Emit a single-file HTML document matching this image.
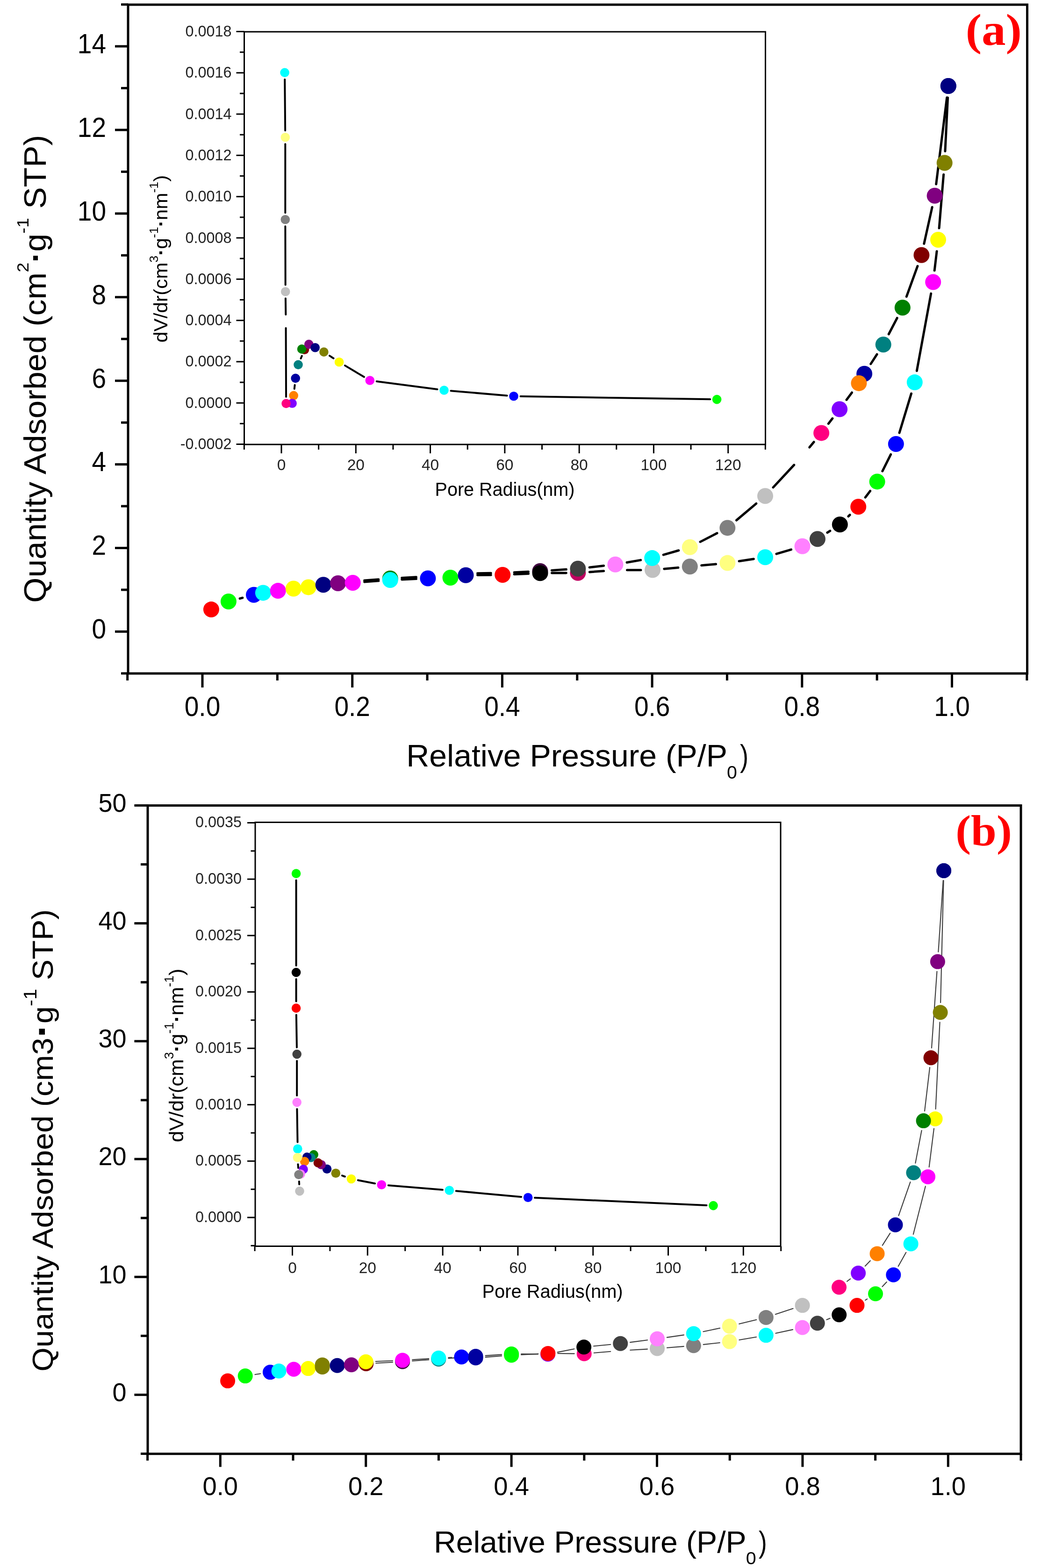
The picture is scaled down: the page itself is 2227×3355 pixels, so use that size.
<!DOCTYPE html>
<html><head><meta charset="utf-8"><title>Nitrogen adsorption-desorption isotherms</title>
<style>html,body{margin:0;padding:0;background:#fff;} svg{display:block;} text{font-family:'Liberation Sans', Arial, sans-serif;}</style>
</head><body>
<svg width="2227" height="3355" viewBox="0 0 2227 3355">
<rect width="2227" height="3355" fill="#fff"/>
<rect x="274" y="10" width="1923.5" height="1431" fill="none" stroke="#000" stroke-width="5"/>
<line x1="259" y1="1440.85" x2="274" y2="1440.85" stroke="#000" stroke-width="5"/>
<line x1="246" y1="1351.4" x2="274" y2="1351.4" stroke="#000" stroke-width="5"/>
<text transform="translate(227,1366.2) scale(0.94,1)" font-size="58.5" text-anchor="end">0</text>
<line x1="259" y1="1261.95" x2="274" y2="1261.95" stroke="#000" stroke-width="5"/>
<line x1="246" y1="1172.5" x2="274" y2="1172.5" stroke="#000" stroke-width="5"/>
<text transform="translate(227,1187.3) scale(0.94,1)" font-size="58.5" text-anchor="end">2</text>
<line x1="259" y1="1083.05" x2="274" y2="1083.05" stroke="#000" stroke-width="5"/>
<line x1="246" y1="993.6" x2="274" y2="993.6" stroke="#000" stroke-width="5"/>
<text transform="translate(227,1008.4) scale(0.94,1)" font-size="58.5" text-anchor="end">4</text>
<line x1="259" y1="904.15" x2="274" y2="904.15" stroke="#000" stroke-width="5"/>
<line x1="246" y1="814.7" x2="274" y2="814.7" stroke="#000" stroke-width="5"/>
<text transform="translate(227,829.5) scale(0.94,1)" font-size="58.5" text-anchor="end">6</text>
<line x1="259" y1="725.25" x2="274" y2="725.25" stroke="#000" stroke-width="5"/>
<line x1="246" y1="635.8" x2="274" y2="635.8" stroke="#000" stroke-width="5"/>
<text transform="translate(227,650.6) scale(0.94,1)" font-size="58.5" text-anchor="end">8</text>
<line x1="259" y1="546.35" x2="274" y2="546.35" stroke="#000" stroke-width="5"/>
<line x1="246" y1="456.9" x2="274" y2="456.9" stroke="#000" stroke-width="5"/>
<text transform="translate(227,471.7) scale(0.94,1)" font-size="58.5" text-anchor="end">10</text>
<line x1="259" y1="367.45" x2="274" y2="367.45" stroke="#000" stroke-width="5"/>
<line x1="246" y1="278" x2="274" y2="278" stroke="#000" stroke-width="5"/>
<text transform="translate(227,292.8) scale(0.94,1)" font-size="58.5" text-anchor="end">12</text>
<line x1="259" y1="188.55" x2="274" y2="188.55" stroke="#000" stroke-width="5"/>
<line x1="246" y1="99.1" x2="274" y2="99.1" stroke="#000" stroke-width="5"/>
<text transform="translate(227,113.9) scale(0.94,1)" font-size="58.5" text-anchor="end">14</text>
<line x1="259" y1="9.65" x2="274" y2="9.65" stroke="#000" stroke-width="5"/>
<line x1="272.65" y1="1441" x2="272.65" y2="1456" stroke="#000" stroke-width="5"/>
<line x1="433" y1="1441" x2="433" y2="1471" stroke="#000" stroke-width="5"/>
<text transform="translate(433,1531.7) scale(0.94,1)" font-size="58.5" text-anchor="middle">0.0</text>
<line x1="593.35" y1="1441" x2="593.35" y2="1456" stroke="#000" stroke-width="5"/>
<line x1="753.7" y1="1441" x2="753.7" y2="1471" stroke="#000" stroke-width="5"/>
<text transform="translate(753.7,1531.7) scale(0.94,1)" font-size="58.5" text-anchor="middle">0.2</text>
<line x1="914.05" y1="1441" x2="914.05" y2="1456" stroke="#000" stroke-width="5"/>
<line x1="1074.4" y1="1441" x2="1074.4" y2="1471" stroke="#000" stroke-width="5"/>
<text transform="translate(1074.4,1531.7) scale(0.94,1)" font-size="58.5" text-anchor="middle">0.4</text>
<line x1="1234.75" y1="1441" x2="1234.75" y2="1456" stroke="#000" stroke-width="5"/>
<line x1="1395.1" y1="1441" x2="1395.1" y2="1471" stroke="#000" stroke-width="5"/>
<text transform="translate(1395.1,1531.7) scale(0.94,1)" font-size="58.5" text-anchor="middle">0.6</text>
<line x1="1555.45" y1="1441" x2="1555.45" y2="1456" stroke="#000" stroke-width="5"/>
<line x1="1715.8" y1="1441" x2="1715.8" y2="1471" stroke="#000" stroke-width="5"/>
<text transform="translate(1715.8,1531.7) scale(0.94,1)" font-size="58.5" text-anchor="middle">0.8</text>
<line x1="1876.15" y1="1441" x2="1876.15" y2="1456" stroke="#000" stroke-width="5"/>
<line x1="2036.5" y1="1441" x2="2036.5" y2="1471" stroke="#000" stroke-width="5"/>
<text transform="translate(2036.5,1531.7) scale(0.94,1)" font-size="58.5" text-anchor="middle">1.0</text>
<line x1="2196.85" y1="1441" x2="2196.85" y2="1456" stroke="#000" stroke-width="5"/>
<text transform="translate(869.34,1640.4) scale(1.0288,1)" font-size="66">Relative Pressure (P/P</text>
<text transform="translate(1554.97,1666.4) scale(1.0212,1)" font-size="38.4">0</text>
<text transform="translate(1583.06,1640.4) scale(0.8255,1)" font-size="66">)</text>
<text transform="translate(98.1,1289.64) rotate(-90) scale(1.0532,1)" font-size="66">Quantity Adsorbed (cm<tspan font-size="36" dy="-37">2</tspan><tspan dy="37" font-weight="bold">·</tspan>g<tspan font-size="36" dy="-37">-1</tspan><tspan dy="37"> STP)</tspan></text>
<text transform="translate(2065.67,95.6) scale(1.0733,1)" font-size="96" font-weight="bold" style="fill:#FF0000;font-family:'Liberation Serif', 'Times New Roman', serif">(a)</text>
<line x1="513.08" y1="1280.65" x2="518.82" y2="1279.15" stroke="#000" stroke-width="5" stroke-linecap="round"/>
<line x1="779.63" y1="1245.13" x2="809.77" y2="1242.87" stroke="#000" stroke-width="5" stroke-linecap="round"/>
<line x1="859.68" y1="1239.92" x2="890.42" y2="1238.58" stroke="#000" stroke-width="5" stroke-linecap="round"/>
<line x1="1021.5" y1="1230.55" x2="1050.2" y2="1230.25" stroke="#000" stroke-width="5" stroke-linecap="round"/>
<line x1="1100.17" y1="1228.85" x2="1130.53" y2="1227.45" stroke="#000" stroke-width="5" stroke-linecap="round"/>
<line x1="1180.5" y1="1226.11" x2="1211.3" y2="1225.89" stroke="#000" stroke-width="5" stroke-linecap="round"/>
<line x1="1261.24" y1="1223.93" x2="1291.56" y2="1221.77" stroke="#000" stroke-width="5" stroke-linecap="round"/>
<line x1="1341.5" y1="1219.87" x2="1371" y2="1219.73" stroke="#000" stroke-width="5" stroke-linecap="round"/>
<line x1="1420.89" y1="1217.29" x2="1450.91" y2="1214.51" stroke="#000" stroke-width="5" stroke-linecap="round"/>
<line x1="1500.69" y1="1209.85" x2="1531.51" y2="1206.95" stroke="#000" stroke-width="5" stroke-linecap="round"/>
<line x1="1581.11" y1="1200.8" x2="1612.29" y2="1196" stroke="#000" stroke-width="5" stroke-linecap="round"/>
<line x1="1660.97" y1="1185.11" x2="1692.53" y2="1175.79" stroke="#000" stroke-width="5" stroke-linecap="round"/>
<line x1="1769.89" y1="1139.62" x2="1775.81" y2="1135.78" stroke="#000" stroke-width="5" stroke-linecap="round"/>
<line x1="1814.82" y1="1104.87" x2="1818.18" y2="1101.63" stroke="#000" stroke-width="5" stroke-linecap="round"/>
<line x1="1851.19" y1="1064.3" x2="1861.61" y2="1050.4" stroke="#000" stroke-width="5" stroke-linecap="round"/>
<line x1="1887.78" y1="1008.04" x2="1905.62" y2="972.36" stroke="#000" stroke-width="5" stroke-linecap="round"/>
<line x1="1924.06" y1="926.08" x2="1949.54" y2="842.02" stroke="#000" stroke-width="5" stroke-linecap="round"/>
<line x1="1961.31" y1="793.51" x2="1991.69" y2="628.09" stroke="#000" stroke-width="5" stroke-linecap="round"/>
<line x1="1999.16" y1="578.68" x2="2004.04" y2="537.82" stroke="#000" stroke-width="5" stroke-linecap="round"/>
<line x1="2009.07" y1="488.09" x2="2018.63" y2="373.41" stroke="#000" stroke-width="5" stroke-linecap="round"/>
<line x1="2021.93" y1="323.53" x2="2027.57" y2="208.97" stroke="#000" stroke-width="5" stroke-linecap="round"/>
<line x1="2025.71" y1="208.81" x2="2002.69" y2="393.99" stroke="#000" stroke-width="5" stroke-linecap="round"/>
<line x1="1994.18" y1="443.21" x2="1976.82" y2="521.39" stroke="#000" stroke-width="5" stroke-linecap="round"/>
<line x1="1962.91" y1="569.31" x2="1939.29" y2="634.69" stroke="#000" stroke-width="5" stroke-linecap="round"/>
<line x1="1919.26" y1="680.38" x2="1901.24" y2="715.02" stroke="#000" stroke-width="5" stroke-linecap="round"/>
<line x1="1876.08" y1="758.16" x2="1862.72" y2="778.74" stroke="#000" stroke-width="5" stroke-linecap="round"/>
<line x1="1822.49" y1="839.97" x2="1811.01" y2="855.43" stroke="#000" stroke-width="5" stroke-linecap="round"/>
<line x1="1780.89" y1="895.34" x2="1772.31" y2="906.56" stroke="#000" stroke-width="5" stroke-linecap="round"/>
<line x1="1741.2" y1="945.69" x2="1731.7" y2="957.21" stroke="#000" stroke-width="5" stroke-linecap="round"/>
<line x1="1698.77" y1="994.8" x2="1654.03" y2="1042.9" stroke="#000" stroke-width="5" stroke-linecap="round"/>
<line x1="1617.91" y1="1077.34" x2="1575.39" y2="1113.26" stroke="#000" stroke-width="5" stroke-linecap="round"/>
<line x1="1534.07" y1="1140.83" x2="1498.03" y2="1159.37" stroke="#000" stroke-width="5" stroke-linecap="round"/>
<line x1="1451.78" y1="1177.74" x2="1419.22" y2="1187.16" stroke="#000" stroke-width="5" stroke-linecap="round"/>
<line x1="1370.57" y1="1198.38" x2="1341.03" y2="1203.52" stroke="#000" stroke-width="5" stroke-linecap="round"/>
<line x1="1291.55" y1="1210.56" x2="1261.15" y2="1213.94" stroke="#000" stroke-width="5" stroke-linecap="round"/>
<line x1="1211.35" y1="1218.33" x2="1180.35" y2="1220.37" stroke="#000" stroke-width="5" stroke-linecap="round"/>
<line x1="1130.43" y1="1223.25" x2="1100.17" y2="1224.75" stroke="#000" stroke-width="5" stroke-linecap="round"/>
<line x1="1050.2" y1="1226.32" x2="1021.5" y2="1226.68" stroke="#000" stroke-width="5" stroke-linecap="round"/>
<line x1="890.44" y1="1234.83" x2="859.66" y2="1236.47" stroke="#000" stroke-width="5" stroke-linecap="round"/>
<line x1="809.77" y1="1239.73" x2="779.63" y2="1242.07" stroke="#000" stroke-width="5" stroke-linecap="round"/>
<circle cx="1155.4" cy="1222" r="17" fill="#400040"/>
<circle cx="834.7" cy="1237.8" r="17" fill="#008000"/>
<circle cx="1236.3" cy="1225.7" r="17" fill="#C00060"/>
<circle cx="451.9" cy="1304.1" r="17" fill="#FF0000"/>
<circle cx="488.9" cy="1287" r="17" fill="#00FF00"/>
<circle cx="543" cy="1272.8" r="17" fill="#0000FF"/>
<circle cx="562.9" cy="1268.4" r="17" fill="#00FFFF"/>
<circle cx="594.7" cy="1264.1" r="17" fill="#FF00FF"/>
<circle cx="627.9" cy="1259.5" r="17" fill="#FFFF00"/>
<circle cx="659.8" cy="1256.4" r="17" fill="#FFFF00"/>
<circle cx="691.7" cy="1251.3" r="17" fill="#000080"/>
<circle cx="723.1" cy="1248" r="17" fill="#800080"/>
<circle cx="754.7" cy="1247" r="17" fill="#FF00FF"/>
<circle cx="834.7" cy="1241" r="17" fill="#00FFFF"/>
<circle cx="915.4" cy="1237.5" r="17" fill="#0000FF"/>
<circle cx="963.5" cy="1236" r="17" fill="#00FF00"/>
<circle cx="996.5" cy="1230.8" r="17" fill="#0000A0"/>
<circle cx="1075.2" cy="1230" r="17" fill="#FF0000"/>
<circle cx="1155.5" cy="1226.3" r="17" fill="#000000"/>
<circle cx="1396" cy="1219.6" r="17" fill="#C0C0C0"/>
<circle cx="1475.8" cy="1212.2" r="17" fill="#808080"/>
<circle cx="1556.4" cy="1204.6" r="17" fill="#FFFF80"/>
<circle cx="1637" cy="1192.2" r="17" fill="#00FFFF"/>
<circle cx="1716.5" cy="1168.7" r="17" fill="#FF80FF"/>
<circle cx="1748.9" cy="1153.2" r="17" fill="#404040"/>
<circle cx="1796.8" cy="1122.2" r="17" fill="#000000"/>
<circle cx="1836.2" cy="1084.3" r="17" fill="#FF0000"/>
<circle cx="1876.6" cy="1030.4" r="17" fill="#00FF00"/>
<circle cx="1916.8" cy="950" r="17" fill="#0000FF"/>
<circle cx="1956.8" cy="818.1" r="17" fill="#00FFFF"/>
<circle cx="1996.2" cy="603.5" r="17" fill="#FF00FF"/>
<circle cx="2007" cy="513" r="17" fill="#FFFF00"/>
<circle cx="2020.7" cy="348.5" r="17" fill="#808000"/>
<circle cx="2028.8" cy="184" r="17" fill="#000080"/>
<circle cx="2028.8" cy="184" r="17" fill="#000080"/>
<circle cx="1999.6" cy="418.8" r="17" fill="#800080"/>
<circle cx="1971.4" cy="545.8" r="17" fill="#800000"/>
<circle cx="1930.8" cy="658.2" r="17" fill="#008000"/>
<circle cx="1889.7" cy="737.2" r="17" fill="#008080"/>
<circle cx="1849.1" cy="799.7" r="17" fill="#0000A0"/>
<circle cx="1837.4" cy="819.9" r="17" fill="#FF8000"/>
<circle cx="1796.1" cy="875.5" r="17" fill="#8000FF"/>
<circle cx="1757.1" cy="926.4" r="17" fill="#FF0080"/>
<circle cx="1637" cy="1061.2" r="17" fill="#C0C0C0"/>
<circle cx="1556.3" cy="1129.4" r="17" fill="#808080"/>
<circle cx="1475.8" cy="1170.8" r="17" fill="#FFFF80"/>
<circle cx="1395.2" cy="1194.1" r="17" fill="#00FFFF"/>
<circle cx="1316.4" cy="1207.8" r="17" fill="#FF80FF"/>
<circle cx="1236.3" cy="1216.7" r="17" fill="#404040"/>
<rect x="522.5" y="68" width="1115.0" height="883" fill="#fff"/>
<rect x="522.5" y="68" width="1115" height="883" fill="none" stroke="#000" stroke-width="3"/>
<line x1="505.5" y1="950.5" x2="522.5" y2="950.5" stroke="#000" stroke-width="3"/>
<text transform="translate(495.5,961) scale(0.98,1)" font-size="33" text-anchor="end" fill="#222">-0.0002</text>
<line x1="513" y1="906.35" x2="522.5" y2="906.35" stroke="#000" stroke-width="3"/>
<line x1="505.5" y1="862.2" x2="522.5" y2="862.2" stroke="#000" stroke-width="3"/>
<text transform="translate(495.5,872.7) scale(0.98,1)" font-size="33" text-anchor="end" fill="#222">0.0000</text>
<line x1="513" y1="818.05" x2="522.5" y2="818.05" stroke="#000" stroke-width="3"/>
<line x1="505.5" y1="773.9" x2="522.5" y2="773.9" stroke="#000" stroke-width="3"/>
<text transform="translate(495.5,784.4) scale(0.98,1)" font-size="33" text-anchor="end" fill="#222">0.0002</text>
<line x1="513" y1="729.75" x2="522.5" y2="729.75" stroke="#000" stroke-width="3"/>
<line x1="505.5" y1="685.6" x2="522.5" y2="685.6" stroke="#000" stroke-width="3"/>
<text transform="translate(495.5,696.1) scale(0.98,1)" font-size="33" text-anchor="end" fill="#222">0.0004</text>
<line x1="513" y1="641.45" x2="522.5" y2="641.45" stroke="#000" stroke-width="3"/>
<line x1="505.5" y1="597.3" x2="522.5" y2="597.3" stroke="#000" stroke-width="3"/>
<text transform="translate(495.5,607.8) scale(0.98,1)" font-size="33" text-anchor="end" fill="#222">0.0006</text>
<line x1="513" y1="553.15" x2="522.5" y2="553.15" stroke="#000" stroke-width="3"/>
<line x1="505.5" y1="509" x2="522.5" y2="509" stroke="#000" stroke-width="3"/>
<text transform="translate(495.5,519.5) scale(0.98,1)" font-size="33" text-anchor="end" fill="#222">0.0008</text>
<line x1="513" y1="464.85" x2="522.5" y2="464.85" stroke="#000" stroke-width="3"/>
<line x1="505.5" y1="420.7" x2="522.5" y2="420.7" stroke="#000" stroke-width="3"/>
<text transform="translate(495.5,431.2) scale(0.98,1)" font-size="33" text-anchor="end" fill="#222">0.0010</text>
<line x1="513" y1="376.55" x2="522.5" y2="376.55" stroke="#000" stroke-width="3"/>
<line x1="505.5" y1="332.4" x2="522.5" y2="332.4" stroke="#000" stroke-width="3"/>
<text transform="translate(495.5,342.9) scale(0.98,1)" font-size="33" text-anchor="end" fill="#222">0.0012</text>
<line x1="513" y1="288.25" x2="522.5" y2="288.25" stroke="#000" stroke-width="3"/>
<line x1="505.5" y1="244.1" x2="522.5" y2="244.1" stroke="#000" stroke-width="3"/>
<text transform="translate(495.5,254.6) scale(0.98,1)" font-size="33" text-anchor="end" fill="#222">0.0014</text>
<line x1="513" y1="199.95" x2="522.5" y2="199.95" stroke="#000" stroke-width="3"/>
<line x1="505.5" y1="155.8" x2="522.5" y2="155.8" stroke="#000" stroke-width="3"/>
<text transform="translate(495.5,166.3) scale(0.98,1)" font-size="33" text-anchor="end" fill="#222">0.0016</text>
<line x1="513" y1="111.65" x2="522.5" y2="111.65" stroke="#000" stroke-width="3"/>
<line x1="505.5" y1="67.5" x2="522.5" y2="67.5" stroke="#000" stroke-width="3"/>
<text transform="translate(495.5,78) scale(0.98,1)" font-size="33" text-anchor="end" fill="#222">0.0018</text>
<line x1="522.36" y1="951" x2="522.36" y2="962" stroke="#000" stroke-width="3"/>
<line x1="602" y1="951" x2="602" y2="970" stroke="#000" stroke-width="3"/>
<text x="602" y="1006.4" font-size="33.5" text-anchor="middle" fill="#222">0</text>
<line x1="681.64" y1="951" x2="681.64" y2="962" stroke="#000" stroke-width="3"/>
<line x1="761.28" y1="951" x2="761.28" y2="970" stroke="#000" stroke-width="3"/>
<text x="761.28" y="1006.4" font-size="33.5" text-anchor="middle" fill="#222">20</text>
<line x1="840.92" y1="951" x2="840.92" y2="962" stroke="#000" stroke-width="3"/>
<line x1="920.56" y1="951" x2="920.56" y2="970" stroke="#000" stroke-width="3"/>
<text x="920.56" y="1006.4" font-size="33.5" text-anchor="middle" fill="#222">40</text>
<line x1="1000.2" y1="951" x2="1000.2" y2="962" stroke="#000" stroke-width="3"/>
<line x1="1079.84" y1="951" x2="1079.84" y2="970" stroke="#000" stroke-width="3"/>
<text x="1079.84" y="1006.4" font-size="33.5" text-anchor="middle" fill="#222">60</text>
<line x1="1159.48" y1="951" x2="1159.48" y2="962" stroke="#000" stroke-width="3"/>
<line x1="1239.12" y1="951" x2="1239.12" y2="970" stroke="#000" stroke-width="3"/>
<text x="1239.12" y="1006.4" font-size="33.5" text-anchor="middle" fill="#222">80</text>
<line x1="1318.76" y1="951" x2="1318.76" y2="962" stroke="#000" stroke-width="3"/>
<line x1="1398.4" y1="951" x2="1398.4" y2="970" stroke="#000" stroke-width="3"/>
<text x="1398.4" y="1006.4" font-size="33.5" text-anchor="middle" fill="#222">100</text>
<line x1="1478.04" y1="951" x2="1478.04" y2="962" stroke="#000" stroke-width="3"/>
<line x1="1557.68" y1="951" x2="1557.68" y2="970" stroke="#000" stroke-width="3"/>
<text x="1557.68" y="1006.4" font-size="33.5" text-anchor="middle" fill="#222">120</text>
<line x1="1637.32" y1="951" x2="1637.32" y2="962" stroke="#000" stroke-width="3"/>
<text transform="translate(930.53,1060.8) scale(0.9892,1)" font-size="40">Pore Radius(nm)</text>
<text transform="translate(358,733.05) rotate(-90) scale(1.0308,1)" font-size="41">dV/dr(cm<tspan font-size="26" dy="-20">3</tspan><tspan dy="20" font-weight="bold">·</tspan>g<tspan font-size="26" dy="-20">-1</tspan><tspan dy="20" font-weight="bold">·</tspan>nm<tspan font-size="26" dy="-20">-1</tspan><tspan dy="20">)</tspan></text>
<line x1="609.23" y1="169.9" x2="610.17" y2="279.2" stroke="#000" stroke-width="4" stroke-linecap="round"/>
<line x1="610.3" y1="308.2" x2="610.3" y2="455.2" stroke="#000" stroke-width="4" stroke-linecap="round"/>
<line x1="610.34" y1="484.2" x2="610.66" y2="609.5" stroke="#000" stroke-width="4" stroke-linecap="round"/>
<line x1="610.88" y1="638.5" x2="611.32" y2="673" stroke="#000" stroke-width="4" stroke-linecap="round"/>
<line x1="611.55" y1="702" x2="612.05" y2="848.9" stroke="#000" stroke-width="4" stroke-linecap="round"/>
<line x1="629.76" y1="831.98" x2="630.64" y2="823.82" stroke="#000" stroke-width="4" stroke-linecap="round"/>
<line x1="643.57" y1="767.01" x2="645.83" y2="761.59" stroke="#000" stroke-width="4" stroke-linecap="round"/>
<line x1="705" y1="761.09" x2="713.5" y2="766.71" stroke="#000" stroke-width="4" stroke-linecap="round"/>
<line x1="738.04" y1="782.14" x2="778.86" y2="806.56" stroke="#000" stroke-width="4" stroke-linecap="round"/>
<line x1="805.67" y1="815.9" x2="935.63" y2="833.1" stroke="#000" stroke-width="4" stroke-linecap="round"/>
<line x1="964.45" y1="836.23" x2="1084.55" y2="846.47" stroke="#000" stroke-width="4" stroke-linecap="round"/>
<line x1="1113.5" y1="847.93" x2="1519.1" y2="854.37" stroke="#000" stroke-width="4" stroke-linecap="round"/>
<circle cx="1533.6" cy="854.6" r="9.8" fill="#00FF00"/>
<circle cx="1099" cy="847.7" r="9.8" fill="#0000FF"/>
<circle cx="950" cy="835" r="9.8" fill="#00FFFF"/>
<circle cx="791.3" cy="814" r="9.8" fill="#FF00FF"/>
<circle cx="725.6" cy="774.7" r="9.8" fill="#FFFF00"/>
<circle cx="692.9" cy="753.1" r="9.8" fill="#808000"/>
<circle cx="651.4" cy="748.2" r="9.8" fill="#800000"/>
<circle cx="645.6" cy="746.9" r="9.8" fill="#008000"/>
<circle cx="660.8" cy="736.6" r="9.8" fill="#800080"/>
<circle cx="674.2" cy="743.8" r="9.8" fill="#000080"/>
<circle cx="638" cy="780.4" r="9.8" fill="#008080"/>
<circle cx="632.2" cy="809.4" r="9.8" fill="#0000A0"/>
<circle cx="628.2" cy="846.4" r="9.8" fill="#FF8000"/>
<circle cx="625.1" cy="863" r="9.8" fill="#8000FF"/>
<circle cx="612.1" cy="863.4" r="9.8" fill="#FF0080"/>
<circle cx="610.7" cy="624" r="9.8" fill="#C0C0C0"/>
<circle cx="610.3" cy="469.7" r="9.8" fill="#808080"/>
<circle cx="610.3" cy="293.7" r="9.8" fill="#FFFF80"/>
<circle cx="609.1" cy="155.4" r="9.8" fill="#00FFFF"/>
<rect x="316" y="1723.5" width="1868" height="1387.2" fill="none" stroke="#000" stroke-width="5"/>
<line x1="301" y1="3110.5" x2="316" y2="3110.5" stroke="#000" stroke-width="5"/>
<line x1="287.4" y1="2984.4" x2="316" y2="2984.4" stroke="#000" stroke-width="5"/>
<text transform="translate(270.5,2997.7) scale(0.98,1)" font-size="55" text-anchor="end">0</text>
<line x1="301" y1="2858.3" x2="316" y2="2858.3" stroke="#000" stroke-width="5"/>
<line x1="287.4" y1="2732.2" x2="316" y2="2732.2" stroke="#000" stroke-width="5"/>
<text transform="translate(270.5,2745.5) scale(0.98,1)" font-size="55" text-anchor="end">10</text>
<line x1="301" y1="2606.1" x2="316" y2="2606.1" stroke="#000" stroke-width="5"/>
<line x1="287.4" y1="2480" x2="316" y2="2480" stroke="#000" stroke-width="5"/>
<text transform="translate(270.5,2493.3) scale(0.98,1)" font-size="55" text-anchor="end">20</text>
<line x1="301" y1="2353.9" x2="316" y2="2353.9" stroke="#000" stroke-width="5"/>
<line x1="287.4" y1="2227.8" x2="316" y2="2227.8" stroke="#000" stroke-width="5"/>
<text transform="translate(270.5,2241.1) scale(0.98,1)" font-size="55" text-anchor="end">30</text>
<line x1="301" y1="2101.7" x2="316" y2="2101.7" stroke="#000" stroke-width="5"/>
<line x1="287.4" y1="1975.6" x2="316" y2="1975.6" stroke="#000" stroke-width="5"/>
<text transform="translate(270.5,1988.9) scale(0.98,1)" font-size="55" text-anchor="end">40</text>
<line x1="301" y1="1849.5" x2="316" y2="1849.5" stroke="#000" stroke-width="5"/>
<line x1="287.4" y1="1723.4" x2="316" y2="1723.4" stroke="#000" stroke-width="5"/>
<text transform="translate(270.5,1736.7) scale(0.98,1)" font-size="55" text-anchor="end">50</text>
<line x1="315.6" y1="3110.7" x2="315.6" y2="3125.2" stroke="#000" stroke-width="5"/>
<line x1="471.3" y1="3110.7" x2="471.3" y2="3138.7" stroke="#000" stroke-width="5"/>
<text transform="translate(471.3,3199.2) scale(0.97,1)" font-size="56" text-anchor="middle">0.0</text>
<line x1="627" y1="3110.7" x2="627" y2="3125.2" stroke="#000" stroke-width="5"/>
<line x1="782.7" y1="3110.7" x2="782.7" y2="3138.7" stroke="#000" stroke-width="5"/>
<text transform="translate(782.7,3199.2) scale(0.97,1)" font-size="56" text-anchor="middle">0.2</text>
<line x1="938.4" y1="3110.7" x2="938.4" y2="3125.2" stroke="#000" stroke-width="5"/>
<line x1="1094.1" y1="3110.7" x2="1094.1" y2="3138.7" stroke="#000" stroke-width="5"/>
<text transform="translate(1094.1,3199.2) scale(0.97,1)" font-size="56" text-anchor="middle">0.4</text>
<line x1="1249.8" y1="3110.7" x2="1249.8" y2="3125.2" stroke="#000" stroke-width="5"/>
<line x1="1405.5" y1="3110.7" x2="1405.5" y2="3138.7" stroke="#000" stroke-width="5"/>
<text transform="translate(1405.5,3199.2) scale(0.97,1)" font-size="56" text-anchor="middle">0.6</text>
<line x1="1561.2" y1="3110.7" x2="1561.2" y2="3125.2" stroke="#000" stroke-width="5"/>
<line x1="1716.9" y1="3110.7" x2="1716.9" y2="3138.7" stroke="#000" stroke-width="5"/>
<text transform="translate(1716.9,3199.2) scale(0.97,1)" font-size="56" text-anchor="middle">0.8</text>
<line x1="1872.6" y1="3110.7" x2="1872.6" y2="3125.2" stroke="#000" stroke-width="5"/>
<line x1="2028.3" y1="3110.7" x2="2028.3" y2="3138.7" stroke="#000" stroke-width="5"/>
<text transform="translate(2028.3,3199.2) scale(0.97,1)" font-size="56" text-anchor="middle">1.0</text>
<line x1="2184" y1="3110.7" x2="2184" y2="3125.2" stroke="#000" stroke-width="5"/>
<text transform="translate(927.89,3322) scale(1.0236,1)" font-size="64.6">Relative Pressure (P/P</text>
<text transform="translate(1595.85,3347.2) scale(1.0843,1)" font-size="36.3">0</text>
<text transform="translate(1623.06,3322) scale(0.8255,1)" font-size="64.6">)</text>
<text transform="translate(112.6,2934.72) rotate(-90) scale(1.0746,1)" font-size="62">Quantity Adsorbed (cm3<tspan font-weight="bold" font-size="84" dy="5">·</tspan><tspan dy="-5">g</tspan><tspan font-size="39" dy="-35">-1</tspan><tspan dy="35"> STP)</tspan></text>
<text transform="translate(2044.31,1809.4) scale(1.0654,1)" font-size="92.5" font-weight="bold" style="fill:#FF0000;font-family:'Liberation Serif', 'Times New Roman', serif">(b)</text>
<line x1="545.52" y1="2940.98" x2="557.18" y2="2939.22" stroke="#3c3c3c" stroke-width="2.1" stroke-linecap="round"/>
<line x1="803.73" y1="2912.94" x2="840.07" y2="2911.46" stroke="#3c3c3c" stroke-width="2.1" stroke-linecap="round"/>
<line x1="882.11" y1="2909.29" x2="917.29" y2="2907.11" stroke="#3c3c3c" stroke-width="2.1" stroke-linecap="round"/>
<line x1="959.33" y1="2904.81" x2="966.27" y2="2904.49" stroke="#3c3c3c" stroke-width="2.1" stroke-linecap="round"/>
<line x1="1038.59" y1="2903.91" x2="1073.11" y2="2901.29" stroke="#3c3c3c" stroke-width="2.1" stroke-linecap="round"/>
<line x1="1115.13" y1="2898.68" x2="1151.27" y2="2896.92" stroke="#3c3c3c" stroke-width="2.1" stroke-linecap="round"/>
<line x1="1193.35" y1="2896.06" x2="1228.65" y2="2896.34" stroke="#3c3c3c" stroke-width="2.1" stroke-linecap="round"/>
<line x1="1270.68" y1="2894.74" x2="1306.22" y2="2891.76" stroke="#3c3c3c" stroke-width="2.1" stroke-linecap="round"/>
<line x1="1348.21" y1="2888.77" x2="1384.99" y2="2886.63" stroke="#3c3c3c" stroke-width="2.1" stroke-linecap="round"/>
<line x1="1426.98" y1="2883.73" x2="1462.82" y2="2880.87" stroke="#3c3c3c" stroke-width="2.1" stroke-linecap="round"/>
<line x1="1504.72" y1="2876.86" x2="1539.78" y2="2872.94" stroke="#3c3c3c" stroke-width="2.1" stroke-linecap="round"/>
<line x1="1581.44" y1="2867.01" x2="1618.06" y2="2860.69" stroke="#3c3c3c" stroke-width="2.1" stroke-linecap="round"/>
<line x1="1659.39" y1="2852.71" x2="1696.01" y2="2844.89" stroke="#3c3c3c" stroke-width="2.1" stroke-linecap="round"/>
<line x1="1768.32" y1="2823.66" x2="1775.58" y2="2820.84" stroke="#3c3c3c" stroke-width="2.1" stroke-linecap="round"/>
<line x1="1851.22" y1="2781.9" x2="1855.18" y2="2779.4" stroke="#3c3c3c" stroke-width="2.1" stroke-linecap="round"/>
<line x1="1887.48" y1="2752.92" x2="1896.82" y2="2743.08" stroke="#3c3c3c" stroke-width="2.1" stroke-linecap="round"/>
<line x1="1921.61" y1="2709.45" x2="1938.29" y2="2679.75" stroke="#3c3c3c" stroke-width="2.1" stroke-linecap="round"/>
<line x1="1953.78" y1="2641" x2="1979.82" y2="2538.3" stroke="#3c3c3c" stroke-width="2.1" stroke-linecap="round"/>
<line x1="1987.63" y1="2497.01" x2="1997.97" y2="2414.79" stroke="#3c3c3c" stroke-width="2.1" stroke-linecap="round"/>
<line x1="2001.62" y1="2372.87" x2="2010.58" y2="2187.23" stroke="#3c3c3c" stroke-width="2.1" stroke-linecap="round"/>
<line x1="2012.12" y1="2145.16" x2="2018.58" y2="1884.04" stroke="#3c3c3c" stroke-width="2.1" stroke-linecap="round"/>
<line x1="2017.68" y1="1884" x2="2007.32" y2="2036.6" stroke="#3c3c3c" stroke-width="2.1" stroke-linecap="round"/>
<line x1="2004.43" y1="2078.6" x2="1992.97" y2="2242.2" stroke="#3c3c3c" stroke-width="2.1" stroke-linecap="round"/>
<line x1="1989.04" y1="2284.11" x2="1978.06" y2="2377.19" stroke="#3c3c3c" stroke-width="2.1" stroke-linecap="round"/>
<line x1="1971.66" y1="2418.78" x2="1958.34" y2="2488.62" stroke="#3c3c3c" stroke-width="2.1" stroke-linecap="round"/>
<line x1="1947.47" y1="2529.18" x2="1922.43" y2="2600.92" stroke="#3c3c3c" stroke-width="2.1" stroke-linecap="round"/>
<line x1="1904.24" y1="2638.59" x2="1887.76" y2="2664.61" stroke="#3c3c3c" stroke-width="2.1" stroke-linecap="round"/>
<line x1="1861.83" y1="2697.5" x2="1850.77" y2="2708.9" stroke="#3c3c3c" stroke-width="2.1" stroke-linecap="round"/>
<line x1="1819.14" y1="2736.46" x2="1811.96" y2="2741.74" stroke="#3c3c3c" stroke-width="2.1" stroke-linecap="round"/>
<line x1="1696.62" y1="2799.73" x2="1658.78" y2="2812.27" stroke="#3c3c3c" stroke-width="2.1" stroke-linecap="round"/>
<line x1="1618.33" y1="2823.8" x2="1581.17" y2="2832.7" stroke="#3c3c3c" stroke-width="2.1" stroke-linecap="round"/>
<line x1="1540.08" y1="2841.84" x2="1504.42" y2="2849.16" stroke="#3c3c3c" stroke-width="2.1" stroke-linecap="round"/>
<line x1="1462.96" y1="2856.4" x2="1426.84" y2="2861.6" stroke="#3c3c3c" stroke-width="2.1" stroke-linecap="round"/>
<line x1="1385.12" y1="2867.3" x2="1348.08" y2="2872.1" stroke="#3c3c3c" stroke-width="2.1" stroke-linecap="round"/>
<line x1="1306.24" y1="2876.79" x2="1270.06" y2="2880.21" stroke="#3c3c3c" stroke-width="2.1" stroke-linecap="round"/>
<line x1="1228.45" y1="2886.3" x2="1192.65" y2="2893.4" stroke="#3c3c3c" stroke-width="2.1" stroke-linecap="round"/>
<line x1="1150.95" y1="2897.36" x2="1115.15" y2="2897.14" stroke="#3c3c3c" stroke-width="2.1" stroke-linecap="round"/>
<line x1="1073.09" y1="2898.37" x2="1038.61" y2="2900.63" stroke="#3c3c3c" stroke-width="2.1" stroke-linecap="round"/>
<line x1="996.61" y1="2903.59" x2="959.29" y2="2906.41" stroke="#3c3c3c" stroke-width="2.1" stroke-linecap="round"/>
<line x1="917.3" y1="2909.5" x2="882.1" y2="2912" stroke="#3c3c3c" stroke-width="2.1" stroke-linecap="round"/>
<line x1="840.09" y1="2914.71" x2="804.21" y2="2916.79" stroke="#3c3c3c" stroke-width="2.1" stroke-linecap="round"/>
<circle cx="1172" cy="2897.5" r="16" fill="#8000FF"/>
<circle cx="1094.1" cy="2897" r="16" fill="#00FF00"/>
<circle cx="1017.6" cy="2902" r="16" fill="#0000A0"/>
<circle cx="938.3" cy="2908" r="16" fill="#008080"/>
<circle cx="861.1" cy="2913.5" r="16" fill="#400040"/>
<circle cx="783.2" cy="2918" r="16" fill="#800000"/>
<circle cx="487.1" cy="2954.6" r="16" fill="#FF0000"/>
<circle cx="524.7" cy="2944.1" r="16" fill="#00FF00"/>
<circle cx="578" cy="2936.1" r="16" fill="#0000FF"/>
<circle cx="596.5" cy="2933.5" r="16" fill="#00FFFF"/>
<circle cx="628.4" cy="2929.7" r="16" fill="#FF00FF"/>
<circle cx="659.3" cy="2928.1" r="16" fill="#FFFF00"/>
<circle cx="689.6" cy="2925" r="16" fill="#808000"/>
<circle cx="689.6" cy="2920.5" r="16" fill="#808000"/>
<circle cx="721.5" cy="2921.7" r="16" fill="#000080"/>
<circle cx="751.8" cy="2920.2" r="16" fill="#800080"/>
<circle cx="782.7" cy="2913.8" r="16" fill="#FFFF00"/>
<circle cx="861.1" cy="2910.6" r="16" fill="#FF00FF"/>
<circle cx="938.3" cy="2905.8" r="16" fill="#00FFFF"/>
<circle cx="987.3" cy="2903.5" r="16" fill="#0000FF"/>
<circle cx="1017.6" cy="2905.5" r="16" fill="#0000A0"/>
<circle cx="1094.1" cy="2899.7" r="16" fill="#00FF00"/>
<circle cx="1172.3" cy="2895.9" r="16" fill="#FF0000"/>
<circle cx="1249.7" cy="2896.5" r="16" fill="#FF0080"/>
<circle cx="1249.1" cy="2882.2" r="16" fill="#000000"/>
<circle cx="1406" cy="2885.4" r="16" fill="#C0C0C0"/>
<circle cx="1483.8" cy="2879.2" r="16" fill="#808080"/>
<circle cx="1560.7" cy="2870.6" r="16" fill="#FFFF80"/>
<circle cx="1638.8" cy="2857.1" r="16" fill="#00FFFF"/>
<circle cx="1716.6" cy="2840.5" r="16" fill="#FF80FF"/>
<circle cx="1748.7" cy="2831.3" r="16" fill="#404040"/>
<circle cx="1795.2" cy="2813.2" r="16" fill="#000000"/>
<circle cx="1833.4" cy="2793.1" r="16" fill="#FF0000"/>
<circle cx="1873" cy="2768.2" r="16" fill="#00FF00"/>
<circle cx="1911.3" cy="2727.8" r="16" fill="#0000FF"/>
<circle cx="1948.6" cy="2661.4" r="16" fill="#00FFFF"/>
<circle cx="1985" cy="2517.9" r="16" fill="#FF00FF"/>
<circle cx="2000.6" cy="2393.9" r="16" fill="#FFFF00"/>
<circle cx="2011.6" cy="2166.2" r="16" fill="#808000"/>
<circle cx="2019.1" cy="1863" r="16" fill="#000080"/>
<circle cx="2019.1" cy="1863" r="16" fill="#000080"/>
<circle cx="2005.9" cy="2057.6" r="16" fill="#800080"/>
<circle cx="1991.5" cy="2263.2" r="16" fill="#800000"/>
<circle cx="1975.6" cy="2398.1" r="16" fill="#008000"/>
<circle cx="1954.4" cy="2509.3" r="16" fill="#008080"/>
<circle cx="1915.5" cy="2620.8" r="16" fill="#0000A0"/>
<circle cx="1876.5" cy="2682.4" r="16" fill="#FF8000"/>
<circle cx="1836.1" cy="2724" r="16" fill="#8000FF"/>
<circle cx="1795" cy="2754.2" r="16" fill="#FF0080"/>
<circle cx="1716.6" cy="2793.1" r="16" fill="#C0C0C0"/>
<circle cx="1638.8" cy="2818.9" r="16" fill="#808080"/>
<circle cx="1560.7" cy="2837.6" r="16" fill="#FFFF80"/>
<circle cx="1483.8" cy="2853.4" r="16" fill="#00FFFF"/>
<circle cx="1406" cy="2864.6" r="16" fill="#FF80FF"/>
<circle cx="1327.2" cy="2874.8" r="16" fill="#404040"/>
<rect x="546" y="1759.5" width="1124" height="907.0" fill="#fff"/>
<rect x="546" y="1759.5" width="1124" height="907" fill="none" stroke="#000" stroke-width="3"/>
<line x1="536.5" y1="2665.32" x2="546" y2="2665.32" stroke="#000" stroke-width="3"/>
<line x1="529" y1="2605" x2="546" y2="2605" stroke="#000" stroke-width="3"/>
<text transform="translate(517,2615) scale(0.98,1)" font-size="33" text-anchor="end" fill="#222">0.0000</text>
<line x1="536.5" y1="2544.68" x2="546" y2="2544.68" stroke="#000" stroke-width="3"/>
<line x1="529" y1="2484.35" x2="546" y2="2484.35" stroke="#000" stroke-width="3"/>
<text transform="translate(517,2494.35) scale(0.98,1)" font-size="33" text-anchor="end" fill="#222">0.0005</text>
<line x1="536.5" y1="2424.03" x2="546" y2="2424.03" stroke="#000" stroke-width="3"/>
<line x1="529" y1="2363.7" x2="546" y2="2363.7" stroke="#000" stroke-width="3"/>
<text transform="translate(517,2373.7) scale(0.98,1)" font-size="33" text-anchor="end" fill="#222">0.0010</text>
<line x1="536.5" y1="2303.38" x2="546" y2="2303.38" stroke="#000" stroke-width="3"/>
<line x1="529" y1="2243.05" x2="546" y2="2243.05" stroke="#000" stroke-width="3"/>
<text transform="translate(517,2253.05) scale(0.98,1)" font-size="33" text-anchor="end" fill="#222">0.0015</text>
<line x1="536.5" y1="2182.72" x2="546" y2="2182.72" stroke="#000" stroke-width="3"/>
<line x1="529" y1="2122.4" x2="546" y2="2122.4" stroke="#000" stroke-width="3"/>
<text transform="translate(517,2132.4) scale(0.98,1)" font-size="33" text-anchor="end" fill="#222">0.0020</text>
<line x1="536.5" y1="2062.07" x2="546" y2="2062.07" stroke="#000" stroke-width="3"/>
<line x1="529" y1="2001.75" x2="546" y2="2001.75" stroke="#000" stroke-width="3"/>
<text transform="translate(517,2011.75) scale(0.98,1)" font-size="33" text-anchor="end" fill="#222">0.0025</text>
<line x1="536.5" y1="1941.43" x2="546" y2="1941.43" stroke="#000" stroke-width="3"/>
<line x1="529" y1="1881.1" x2="546" y2="1881.1" stroke="#000" stroke-width="3"/>
<text transform="translate(517,1891.1) scale(0.98,1)" font-size="33" text-anchor="end" fill="#222">0.0030</text>
<line x1="536.5" y1="1820.78" x2="546" y2="1820.78" stroke="#000" stroke-width="3"/>
<line x1="529" y1="1760.45" x2="546" y2="1760.45" stroke="#000" stroke-width="3"/>
<text transform="translate(517,1770.45) scale(0.98,1)" font-size="33" text-anchor="end" fill="#222">0.0035</text>
<line x1="545.1" y1="2666.5" x2="545.1" y2="2677" stroke="#000" stroke-width="3"/>
<line x1="625.5" y1="2666.5" x2="625.5" y2="2686.5" stroke="#000" stroke-width="3"/>
<text x="625.5" y="2723.5" font-size="33.5" text-anchor="middle" fill="#222">0</text>
<line x1="705.9" y1="2666.5" x2="705.9" y2="2677" stroke="#000" stroke-width="3"/>
<line x1="786.3" y1="2666.5" x2="786.3" y2="2686.5" stroke="#000" stroke-width="3"/>
<text x="786.3" y="2723.5" font-size="33.5" text-anchor="middle" fill="#222">20</text>
<line x1="866.7" y1="2666.5" x2="866.7" y2="2677" stroke="#000" stroke-width="3"/>
<line x1="947.1" y1="2666.5" x2="947.1" y2="2686.5" stroke="#000" stroke-width="3"/>
<text x="947.1" y="2723.5" font-size="33.5" text-anchor="middle" fill="#222">40</text>
<line x1="1027.5" y1="2666.5" x2="1027.5" y2="2677" stroke="#000" stroke-width="3"/>
<line x1="1107.9" y1="2666.5" x2="1107.9" y2="2686.5" stroke="#000" stroke-width="3"/>
<text x="1107.9" y="2723.5" font-size="33.5" text-anchor="middle" fill="#222">60</text>
<line x1="1188.3" y1="2666.5" x2="1188.3" y2="2677" stroke="#000" stroke-width="3"/>
<line x1="1268.7" y1="2666.5" x2="1268.7" y2="2686.5" stroke="#000" stroke-width="3"/>
<text x="1268.7" y="2723.5" font-size="33.5" text-anchor="middle" fill="#222">80</text>
<line x1="1349.1" y1="2666.5" x2="1349.1" y2="2677" stroke="#000" stroke-width="3"/>
<line x1="1429.5" y1="2666.5" x2="1429.5" y2="2686.5" stroke="#000" stroke-width="3"/>
<text x="1429.5" y="2723.5" font-size="33.5" text-anchor="middle" fill="#222">100</text>
<line x1="1509.9" y1="2666.5" x2="1509.9" y2="2677" stroke="#000" stroke-width="3"/>
<line x1="1590.3" y1="2666.5" x2="1590.3" y2="2686.5" stroke="#000" stroke-width="3"/>
<text x="1590.3" y="2723.5" font-size="33.5" text-anchor="middle" fill="#222">120</text>
<line x1="1670.7" y1="2666.5" x2="1670.7" y2="2677" stroke="#000" stroke-width="3"/>
<text transform="translate(1031.54,2777.4) scale(0.9841,1)" font-size="40.5">Pore Radius(nm)</text>
<text transform="translate(392.2,2444.02) rotate(-90) scale(1.0200,1)" font-size="43">dV/dr(cm<tspan font-size="27" dy="-21">3</tspan><tspan dy="21" font-weight="bold">·</tspan>g<tspan font-size="27" dy="-21">-1</tspan><tspan dy="21" font-weight="bold">·</tspan>nm<tspan font-size="27" dy="-21">-1</tspan><tspan dy="21">)</tspan></text>
<line x1="633.6" y1="1883.6" x2="633.6" y2="2066.1" stroke="#000" stroke-width="4" stroke-linecap="round"/>
<line x1="633.6" y1="2095.1" x2="633.6" y2="2142.6" stroke="#000" stroke-width="4" stroke-linecap="round"/>
<line x1="633.84" y1="2171.6" x2="634.96" y2="2241.1" stroke="#000" stroke-width="4" stroke-linecap="round"/>
<line x1="635.2" y1="2270.1" x2="635.2" y2="2344.1" stroke="#000" stroke-width="4" stroke-linecap="round"/>
<line x1="635.43" y1="2373.1" x2="636.57" y2="2443.8" stroke="#000" stroke-width="4" stroke-linecap="round"/>
<line x1="637.46" y1="2491.16" x2="638.04" y2="2498.94" stroke="#000" stroke-width="4" stroke-linecap="round"/>
<line x1="639.88" y1="2527.88" x2="640.22" y2="2534.12" stroke="#000" stroke-width="4" stroke-linecap="round"/>
<line x1="731.91" y1="2515.3" x2="737.89" y2="2517.5" stroke="#000" stroke-width="4" stroke-linecap="round"/>
<line x1="765.74" y1="2525.25" x2="802.06" y2="2532.25" stroke="#000" stroke-width="4" stroke-linecap="round"/>
<line x1="830.75" y1="2536.2" x2="946.85" y2="2545.8" stroke="#000" stroke-width="4" stroke-linecap="round"/>
<line x1="975.74" y1="2548.3" x2="1115.16" y2="2560.9" stroke="#000" stroke-width="4" stroke-linecap="round"/>
<line x1="1144.09" y1="2562.84" x2="1511.51" y2="2578.96" stroke="#000" stroke-width="4" stroke-linecap="round"/>
<circle cx="1526" cy="2579.6" r="9.8" fill="#00FF00"/>
<circle cx="1129.6" cy="2562.2" r="9.8" fill="#0000FF"/>
<circle cx="961.3" cy="2547" r="9.8" fill="#00FFFF"/>
<circle cx="816.3" cy="2535" r="9.8" fill="#FF00FF"/>
<circle cx="751.5" cy="2522.5" r="9.8" fill="#FFFF00"/>
<circle cx="718.3" cy="2510.3" r="9.8" fill="#808000"/>
<circle cx="699.5" cy="2501.2" r="9.8" fill="#000080"/>
<circle cx="687.3" cy="2492" r="9.8" fill="#800080"/>
<circle cx="680.4" cy="2488.1" r="9.8" fill="#800000"/>
<circle cx="671.2" cy="2470.6" r="9.8" fill="#008000"/>
<circle cx="665.1" cy="2476.7" r="9.8" fill="#008080"/>
<circle cx="656.7" cy="2475.9" r="9.8" fill="#000080"/>
<circle cx="651.7" cy="2485.1" r="9.8" fill="#FF8000"/>
<circle cx="649" cy="2501.9" r="9.8" fill="#8000FF"/>
<circle cx="643" cy="2512" r="9.8" fill="#FF80FF"/>
<circle cx="633.6" cy="1869.1" r="9.8" fill="#00FF00"/>
<circle cx="633.6" cy="2080.6" r="9.8" fill="#000000"/>
<circle cx="633.6" cy="2157.1" r="9.8" fill="#FF0000"/>
<circle cx="635.2" cy="2255.6" r="9.8" fill="#404040"/>
<circle cx="635.2" cy="2358.6" r="9.8" fill="#FF80FF"/>
<circle cx="636.8" cy="2458.3" r="9.8" fill="#00FFFF"/>
<circle cx="636.4" cy="2476.7" r="9.8" fill="#FFFF80"/>
<circle cx="639.1" cy="2513.4" r="9.8" fill="#808080"/>
<circle cx="641" cy="2548.6" r="9.8" fill="#C0C0C0"/>
</svg>
</body></html>
